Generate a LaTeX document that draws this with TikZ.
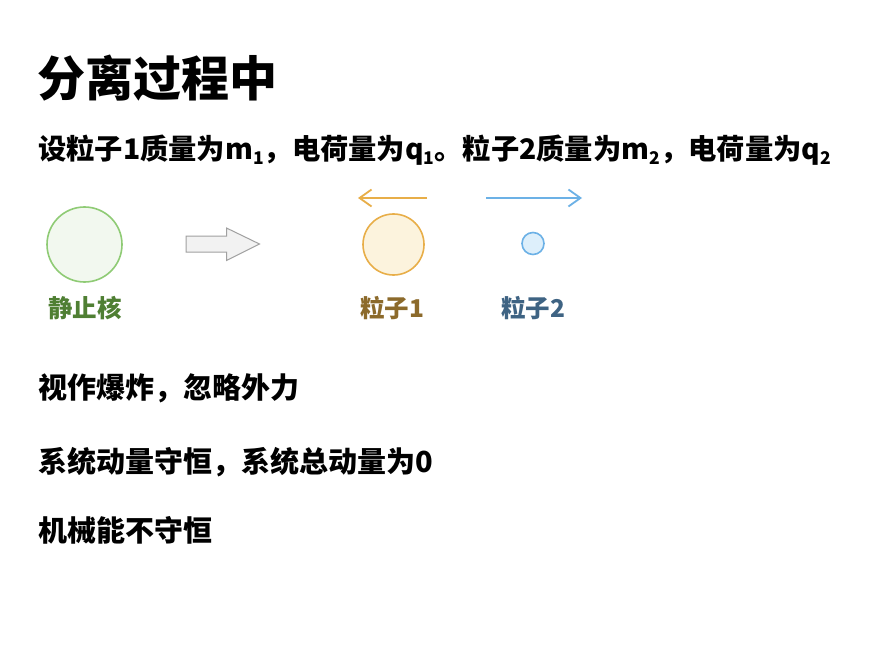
\documentclass[tikz,border=0pt]{standalone}
\usepackage{fontspec}
\setmainfont{Noto Sans CJK SC}
\newfontfamily\cjk{Noto Sans CJK SC}
\usetikzlibrary{arrows.meta}
\definecolor{gstroke}{HTML}{8FCB75}
\definecolor{gfill}{HTML}{F2F8EF}
\definecolor{ostroke}{HTML}{E8AE48}
\definecolor{ofill}{HTML}{FCF3DD}
\definecolor{bstroke}{HTML}{6CB1E6}
\definecolor{bfill}{HTML}{DDEFFB}
\definecolor{glabel}{HTML}{4F7F33}
\definecolor{olabel}{HTML}{8C6A2B}
\definecolor{blabel}{HTML}{3E6383}
\definecolor{arrfill}{HTML}{F2F2F2}
\definecolor{arrstroke}{HTML}{A0A0A0}
\newcommand\sbs[1]{\raisebox{-0.2em}{\fontsize{17.5}{17.5}\selectfont #1}}
\begin{document}
\begin{tikzpicture}[x=1pt,y=-1pt,
  txt/.style={anchor=west,inner sep=0pt,font=\cjk\bfseries\fontsize{29}{29}\selectfont},
  lbl/.style={inner sep=0pt,font=\cjk\bfseries\fontsize{24.5}{24.5}\selectfont},
  ball/.style={circle,draw,line width=1.6pt,inner sep=0pt},
  moveto/.style={line width=1.8pt,-{Straight Barb[length=12pt,width=17pt]}}
]
\path[use as bounding box,fill=white] (0,0) rectangle (874,652);
\node[txt,font=\cjk\bfseries\fontsize{48}{48}\selectfont] (title) at (37,78) {分离过程中};
\node[txt,font=\cjk\bfseries\fontsize{28.3}{28.3}\selectfont] (info) at (38,150) {设粒子1质量为m\sbs{1}，电荷量为q\sbs{1}。粒子2质量为m\sbs{2}，电荷量为q\sbs{2}};
\node[ball,draw=gstroke,fill=gfill,minimum size=75pt] (nuc) at (84.5,244.5) {};
\node[lbl,text=glabel] (nucl) at (85,308) {静止核};
\draw[arrstroke,fill=arrfill,line width=1pt] (186,236) -- (226.5,236) -- (226.5,228) -- (259.5,244) -- (226.5,260.5) -- (226.5,252) -- (186,252) -- cycle;
\node[ball,draw=ostroke,fill=ofill,minimum size=61pt] (p1) at (393.5,244.5) {};
\node[lbl,text=olabel] (p1l) at (392,308) {粒子1};
\node[ball,draw=bstroke,fill=bfill,minimum size=22pt] (p2) at (533,243.5) {};
\node[lbl,text=blabel] (p2l) at (533,308) {粒子2};
\coordinate (o1) at (427,198);
\coordinate (o2) at (358,198);
\coordinate (b1) at (486,198);
\coordinate (b2) at (582,198);
\draw[moveto,ostroke] (o1) -- (o2);
\draw[moveto,bstroke] (b1) -- (b2);
\node[txt] (l3) at (38,388) {视作爆炸，忽略外力};
\node[txt] (l4) at (38,462) {系统动量守恒，系统总动量为0};
\node[txt] (l5) at (38,530) {机械能不守恒};
\end{tikzpicture}
\end{document}
